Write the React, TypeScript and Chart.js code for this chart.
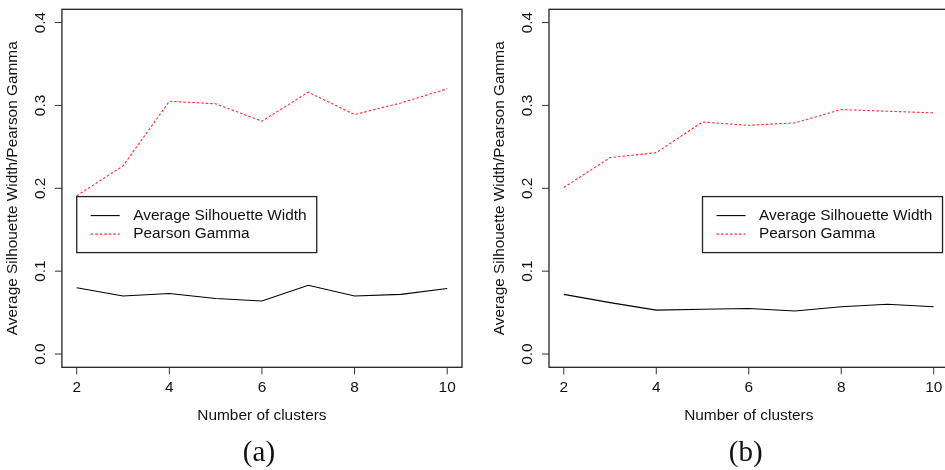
import React, { useEffect, useRef } from "react";
import { Chart, registerables } from "chart.js";
Chart.register(...registerables);

const clusters = [2, 3, 4, 5, 6, 7, 8, 9, 10];
const silhouetteA = [0.080, 0.070, 0.073, 0.067, 0.064, 0.083, 0.070, 0.072, 0.079];
const pearsonA = [0.191, 0.227, 0.305, 0.302, 0.281, 0.316, 0.289, 0.303, 0.320];
const silhouetteB = [0.072, 0.062, 0.053, 0.054, 0.055, 0.052, 0.057, 0.060, 0.057];
const pearsonB = [0.201, 0.237, 0.243, 0.280, 0.276, 0.279, 0.295, 0.293, 0.291];
const xTicks = [2, 4, 6, 8, 10];
const xTickLabels = ["2", "4", "6", "8", "10"];
const yTicks = [0, 0.1, 0.2, 0.3, 0.4];
const yTickLabels = ["0.0", "0.1", "0.2", "0.3", "0.4"];
const seriesNames = ["Average Silhouette Width", "Pearson Gamma"];
const xTitle = "Number of clusters";
const yTitle = "Average Silhouette Width/Pearson Gamma";
const captions = ["(a)", "(b)"];
// legend anchor (top-left corner) in data coordinates, like R's legend(x, y)
const legendAnchorA = { x: 2, y: 0.19 };
const legendAnchorB = { x: 5, y: 0.19 };

const SANS = "'Liberation Sans', Arial, Helvetica, sans-serif";
const SERIF = "'Liberation Serif', 'DejaVu Serif', serif";
const RED = "rgba(255,20,20,0.9)";

type PanelProps = {
  left: number;
  width: number;
  padLeft: number;
  padRight: number;
  sil: number[];
  pear: number[];
  caption: string;
  anchor: { x: number; y: number };
};

function Panel(p: PanelProps) {
  const ref = useRef<HTMLCanvasElement | null>(null);
  useEffect(() => {
    if (!ref.current) return;
    const decor = {
      id: "rdecor",
      afterDraw(chart: any) {
        const { ctx, chartArea: ca } = chart;
        const xs = chart.scales.x;
        const ys = chart.scales.y;
        ctx.save();
        // box
        ctx.strokeStyle = "#222";
        ctx.lineWidth = 1.3;
        ctx.strokeRect(ca.left, ca.top, ca.right - ca.left, ca.bottom - ca.top);
        ctx.lineWidth = 1;
        ctx.strokeStyle = "#333";
        ctx.fillStyle = "#111";
        ctx.font = "15.4px " + SANS;
        // x ticks
        ctx.textAlign = "center";
        ctx.textBaseline = "middle";
        xTicks.forEach((v, i) => {
          const px = xs.getPixelForValue(v);
          ctx.beginPath();
          ctx.moveTo(px, ca.bottom);
          ctx.lineTo(px, ca.bottom + 7);
          ctx.stroke();
          ctx.fillText(xTickLabels[i], px, ca.bottom + 20);
        });
        // y ticks
        yTicks.forEach((v, i) => {
          const py = ys.getPixelForValue(v);
          ctx.beginPath();
          ctx.moveTo(ca.left, py);
          ctx.lineTo(ca.left - 7, py);
          ctx.stroke();
          ctx.save();
          ctx.translate(ca.left - 21, py);
          ctx.rotate(-Math.PI / 2);
          ctx.fillText(yTickLabels[i], 0, 0);
          ctx.restore();
        });
        // titles
        ctx.fillText(xTitle, (ca.left + ca.right) / 2, ca.bottom + 48);
        ctx.save();
        ctx.translate(ca.left - 49.5, (ca.top + ca.bottom) / 2);
        ctx.rotate(-Math.PI / 2);
        ctx.fillText(yTitle, 0, 0);
        ctx.restore();
        // legend
        const lx = xs.getPixelForValue(p.anchor.x);
        const ly = ys.getPixelForValue(p.anchor.y);
        ctx.strokeStyle = "#222";
        ctx.lineWidth = 1.3;
        ctx.strokeRect(lx, ly, 240, 56);
        const rows = [ly + 19, ly + 37.5];
        ctx.lineWidth = 1.1;
        ctx.strokeStyle = "#000";
        ctx.setLineDash([]);
        ctx.beginPath();
        ctx.moveTo(lx + 14, rows[0]);
        ctx.lineTo(lx + 43, rows[0]);
        ctx.stroke();
        ctx.strokeStyle = RED;
        ctx.setLineDash([2.5, 2]);
        ctx.beginPath();
        ctx.moveTo(lx + 14, rows[1]);
        ctx.lineTo(lx + 43, rows[1]);
        ctx.stroke();
        ctx.setLineDash([]);
        ctx.textAlign = "left";
        ctx.fillStyle = "#111";
        ctx.fillText(seriesNames[0], lx + 56.5, rows[0]);
        ctx.fillText(seriesNames[1], lx + 56.5, rows[1]);
        // caption
        ctx.textAlign = "center";
        ctx.font = "29px " + SERIF;
        ctx.fillStyle = "#111";
        ctx.fillText(p.caption, (ca.left + ca.right) / 2 - 3, 453);
        ctx.restore();
      },
    };
    const chart = new Chart(ref.current, {
      type: "line",
      data: {
        datasets: [
          {
            label: seriesNames[0],
            data: clusters.map((c, i) => ({ x: c, y: p.sil[i] })),
            borderColor: "#000",
            borderWidth: 1.1,
            pointRadius: 0,
            tension: 0,
          },
          {
            label: seriesNames[1],
            data: clusters.map((c, i) => ({ x: c, y: p.pear[i] })),
            borderColor: RED,
            borderWidth: 1.1,
            borderDash: [2.5, 2],
            pointRadius: 0,
            tension: 0,
          },
        ],
      },
      options: {
        responsive: false,
        animation: false,
        devicePixelRatio: 1,
        layout: { padding: { left: p.padLeft, right: p.padRight, top: 9.3, bottom: 102.7 } },
        scales: {
          x: { type: "linear", min: 1.68, max: 10.32, display: false },
          y: { type: "linear", min: -0.016, max: 0.416, display: false },
        },
        plugins: { legend: { display: false }, tooltip: { enabled: false } },
      },
      plugins: [decor],
    });
    return () => chart.destroy();
  }, []);
  return (
    <canvas
      ref={ref}
      width={p.width}
      height={470}
      style={{ position: "absolute", left: p.left, top: 0, width: p.width, height: 470 }}
    />
  );
}

export default function App() {
  return (
    <div
      style={{
        position: "fixed",
        left: 0,
        top: 0,
        width: 945,
        height: 470,
        overflow: "hidden",
        background: "#fff",
      }}
    >
      <Panel left={0} width={470} padLeft={61.9} padRight={8} sil={silhouetteA} pear={pearsonA} caption={captions[0]} anchor={legendAnchorA} />
      <Panel left={470} width={490} padLeft={79} padRight={11.5} sil={silhouetteB} pear={pearsonB} caption={captions[1]} anchor={legendAnchorB} />
    </div>
  );
}
